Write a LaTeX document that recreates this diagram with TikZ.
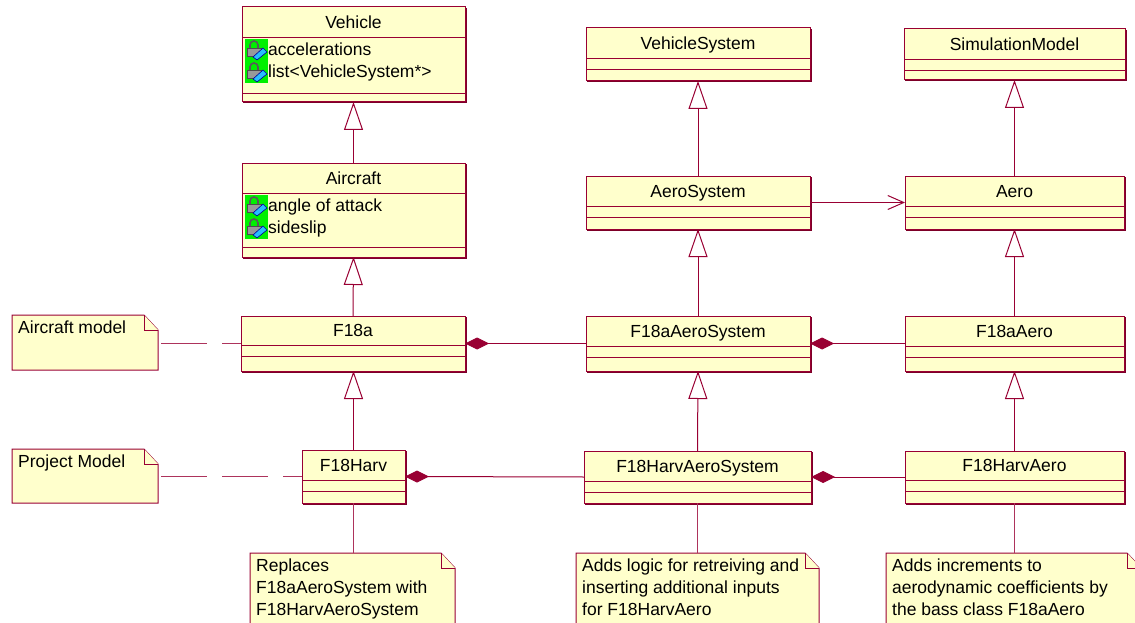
\documentclass[tikz,border=0pt]{standalone}
\usepackage{fontspec}
\setmainfont{Liberation Sans}
\usetikzlibrary{arrows.meta}

\definecolor{umlred}{RGB}{153,0,51}
\definecolor{umlshade}{RGB}{125,0,40}
\definecolor{umlfill}{RGB}{255,255,204}
\definecolor{icongreen}{RGB}{0,240,0}
\definecolor{iconblue}{RGB}{40,190,255}

\newcommand{\umlclass}[8]{%
  \node[classbox, minimum width={(#4-#2)*1pt}, minimum height={(#5-#3)*1pt}] (#1) at (#2,#3) {};
  \draw[classshade] ([shift={(1,1)}]#1.north east) -- ([shift={(1,1)}]#1.south east) -- ([shift={(1,1)}]#1.south west);
  \draw[classline] (#2,#6) -- (#4,#6) (#2,#7) -- (#4,#7);
  \node[classname] at ({(#2+#4)/2},{(#3+#6)/2}) {#8};
}
\newcommand{\umlnote}[6]{%
  \filldraw[noteline] (#2,#3) -- ({#4-14},#3) -- (#4,{#3+15}) -- (#4,#5) -- (#2,#5) -- cycle;
  \draw[noteline] ({#4-14},#3) -- ({#4-14},{#3+15}) -- (#4,{#3+15});
  \node[notebox, minimum width={(#4-#2)*1pt}, minimum height={(#5-#3)*1pt}] (#1) at (#2,#3) {};
  \node[notetext] at ({#2+6},{#3+6}) {#6};
}
\newcommand{\attricon}[2]{%
  \fill[icongreen] (#1,#2) rectangle ({#1+23},{#2+22});
  \draw[black!65, line width=1.6pt] ({#1+5},{#2+9}) -- ({#1+5},{#2+6}) arc (180:360:4) -- ({#1+13},{#2+9});
  \filldraw[draw=black!70, fill=black!40, line width=.6pt] ({#1+2},{#2+9}) rectangle ({#1+16},{#2+17});
  \filldraw[draw=blue!60!black, fill=iconblue, line width=.6pt] ({#1+8},{#2+18}) -- ({#1+18},{#2+9}) -- ({#1+22},{#2+13}) -- ({#1+12},{#2+21}) -- cycle;
}

\begin{document}
\begin{tikzpicture}[x=1pt,y=-1pt,
  classbox/.style={draw=umlred, fill=umlfill, line width=1pt, anchor=north west, inner sep=0pt, outer sep=0pt},
  classshade/.style={draw=umlshade, line width=1pt},
  classline/.style={draw=umlred, line width=.8pt},
  classname/.style={font=\fontsize{17.5}{22}\selectfont, text height=12.5pt, text depth=0pt, inner sep=0pt},
  attr/.style={font=\fontsize{17.5}{22}\selectfont, anchor=base west, inner sep=0pt},
  noteline/.style={draw=umlred, fill=umlfill, line width=1pt},
  notebox/.style={anchor=north west, inner sep=0pt, outer sep=0pt},
  notetext/.style={font=\fontsize{17.5}{22}\selectfont, anchor=north west, align=left, inner sep=0pt},
  gen/.style={draw=umlred, line width=1pt, -{Triangle[open, length=28pt, width=19pt]}},
  comp/.style={draw=umlred, line width=1pt, -{Diamond[length=24pt, width=12pt, fill=umlred]}},
  assoc/.style={draw=umlred, line width=1pt, -{Straight Barb[length=16pt, width=14pt]}},
  notelink/.style={draw=umlred!80, line width=1pt, dash pattern=on 46pt off 15pt, shorten <=3pt},
  anchorlink/.style={draw=umlred!80, line width=1pt}]

  \useasboundingbox (0,0) rectangle (1135,623);

  \umlclass{Vehicle}{242}{7}{465}{102}{37}{93}{Vehicle}
  \umlclass{Aircraft}{242}{163}{465}{257}{193}{247}{Aircraft}
  \umlclass{F18a}{241}{316}{465}{371}{345}{356}{F18a}
  \umlclass{F18Harv}{302}{450}{405}{503}{480}{491}{F18Harv}
  \umlclass{VehicleSystem}{586}{28}{810}{81}{58}{69}{VehicleSystem}
  \umlclass{AeroSystem}{586}{176}{810}{229}{206}{217}{AeroSystem}
  \umlclass{F18aAeroSystem}{586}{316}{810}{371}{346}{357}{F18aAeroSystem}
  \umlclass{F18HarvAeroSystem}{584}{451}{811}{503}{481}{492}{F18HarvAeroSystem}
  \umlclass{SimulationModel}{904}{29}{1125}{80}{59}{70}{SimulationModel}
  \umlclass{Aero}{905}{176}{1124}{229}{206}{217}{Aero}
  \umlclass{F18aAero}{905}{316}{1124}{371}{346}{357}{F18aAero}
  \umlclass{F18HarvAero}{905}{451}{1124}{503}{480}{491}{F18HarvAero}

  \attricon{245}{39}
  \attricon{245}{61}
  \node[attr] (accel) at (268,56) {accelerations};
  \node[attr] (syslist) at (268,78) {list<VehicleSystem*>};
  \attricon{245}{195}
  \attricon{245}{217}
  \node[attr] (alpha) at (268,211) {angle of attack};
  \node[attr] (beta) at (268,233) {sideslip};

  \umlnote{acnote}{12}{315}{158}{370}{Aircraft model}
  \umlnote{prnote}{12}{449}{158}{503}{Project Model}
  \umlnote{repnote}{250}{553}{455}{640}{Replaces\\F18aAeroSystem with\\F18HarvAeroSystem}
  \umlnote{logicnote}{576}{553}{819}{640}{Adds logic for retreiving and\\inserting additional inputs\\for F18HarvAero}
  \umlnote{incnote}{886}{553}{1141}{640}{Adds increments to\\aerodynamic coefficients by\\the bass class F18aAero}

  \draw[gen] (Aircraft.north) -- (Vehicle.south);
  \draw[gen] (F18a.north) -- (Aircraft.south);
  \draw[gen] (F18Harv.north) -- (F18Harv.north |- F18a.south);
  \draw[gen] (AeroSystem.north) -- (VehicleSystem.south);
  \draw[gen] (F18aAeroSystem.north) -- (AeroSystem.south);
  \draw[gen] (F18HarvAeroSystem.north) -- (F18aAeroSystem.south);
  \draw[gen] (Aero.north) -- (SimulationModel.south);
  \draw[gen] (F18aAero.north) -- (Aero.south);
  \draw[gen] (F18HarvAero.north) -- (F18aAero.south);

  \draw[assoc] (AeroSystem.east) -- (Aero.west);

  \draw[comp] (F18aAeroSystem.west) -- (F18a.east);
  \draw[comp] (F18aAero.west) -- (F18aAeroSystem.east);
  \draw[comp] (F18HarvAeroSystem.west) -- (F18Harv.east);
  \draw[comp] (F18HarvAero.west) -- (F18HarvAeroSystem.east);

  \draw[notelink] (F18a.west -| acnote.east) -- (F18a.west);
  \draw[notelink] (F18Harv.west -| prnote.east) -- (F18Harv.west);
  \draw[anchorlink] (F18Harv.south) -- (F18Harv.south |- repnote.north);
  \draw[anchorlink] (F18HarvAeroSystem.south) -- (F18HarvAeroSystem.south |- logicnote.north);
  \draw[anchorlink] (F18HarvAero.south) -- (F18HarvAero.south |- incnote.north);
\end{tikzpicture}
\end{document}
